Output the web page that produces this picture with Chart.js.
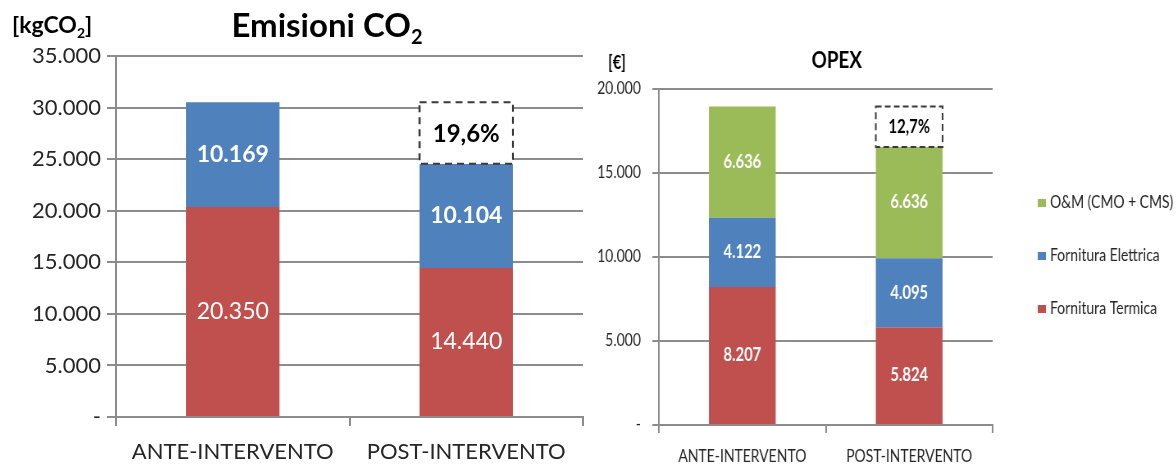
<!DOCTYPE html>
<html>
<head>
<meta charset="utf-8">
<script src="https://cdn.jsdelivr.net/npm/chart.js@4/dist/chart.umd.min.js"></script>
<style>
  html, body { margin: 0; padding: 0; background: #fff; }
  body { width: 1176px; height: 464px; position: relative; overflow: hidden; }
  #co2Wrap { position: absolute; left: 0; top: 0; width: 590px; height: 464px; }
  /* the OPEX panel uses a horizontally condensed rendering */
  #opexWrap { position: absolute; left: 590px; top: 0; width: 715px; height: 464px;
              transform: scaleX(0.82); transform-origin: 0 0; }
</style>
</head>
<body>
<div id="co2Wrap"><canvas id="co2"></canvas></div>
<div id="opexWrap"><canvas id="opex"></canvas></div>
<script>
// ---- data ----
const categories = ['ANTE-INTERVENTO', 'POST-INTERVENTO'];

const co2Termica   = [20350, 14440];
const co2Elettrica = [10169, 10104];
const co2TickLabels = ['-', '5.000', '10.000', '15.000', '20.000', '25.000', '30.000', '35.000'];

const opexTermica   = [8207, 5824];
const opexElettrica = [4122, 4095];
const opexOM        = [6636, 6636];
const opexTickLabels = ['-', '5.000', '10.000', '15.000', '20.000'];

const seriesNames = ['Fornitura Termica', 'Fornitura Elettrica', 'O&M (CMO + CMS)'];

// ---- styling ----
const RED = '#C0504D', BLUE = '#4F81BD', GREEN = '#9BBB59';
const GRID = '#8c8c8c';
const TEXT = '#262626';
const FONT = 'Lato, "Open Sans", sans-serif';

// Italian thousands separator
function fmtThousands(n) {
  return String(Math.round(n)).replace(/\B(?=(\d{3})+(?!\d))/g, '.');
}

// text with a subscript run, e.g. CO + 2
function drawRuns(ctx, runs, x, y, size, weight, family, align) {
  const widths = runs.map(r => {
    ctx.font = `${weight} ${r.sub ? Math.round(size * 0.62) : size}px ${family}`;
    return ctx.measureText(r.t).width;
  });
  const total = widths.reduce((a, b) => a + b, 0);
  let cx = align === 'center' ? x - total / 2 : x;
  ctx.textAlign = 'left';
  ctx.textBaseline = 'alphabetic';
  runs.forEach((r, i) => {
    ctx.font = `${weight} ${r.sub ? Math.round(size * 0.62) : size}px ${family}`;
    ctx.fillText(r.t, cx, r.sub ? y + size * 0.22 : y);
    cx += widths[i];
  });
}

// value labels centred inside each stacked segment
const segmentLabels = {
  id: 'segmentLabels',
  afterDatasetsDraw(chart, args, opts) {
    const ctx = chart.ctx;
    chart.data.datasets.forEach((ds, di) => {
      const meta = chart.getDatasetMeta(di);
      meta.data.forEach((bar, i) => {
        const p = bar.getProps(['x', 'y', 'base'], true);
        ctx.save();
        ctx.fillStyle = '#ffffff';
        ctx.font = `${ds.labelWeight || 'normal'} ${opts.size}px ${opts.family}`;
        ctx.textAlign = 'center';
        ctx.textBaseline = 'middle';
        ctx.fillText(fmtThousands(ds.data[i]), p.x, (p.y + p.base) / 2);
        ctx.restore();
      });
    });
  }
};

// dashed box spanning the reduction between the two totals
const reductionBox = {
  id: 'reductionBox',
  afterDatasetsDraw(chart, args, opts) {
    const ctx = chart.ctx;
    const ys = chart.scales.y;
    const dsets = chart.data.datasets;
    const totals = chart.data.labels.map((_, i) => dsets.reduce((s, d) => s + d.data[i], 0));
    const bar = chart.getDatasetMeta(dsets.length - 1).data[1];
    const w = bar.width;
    const left = bar.x - w / 2;
    const top = ys.getPixelForValue(totals[0]);
    const bottom = ys.getPixelForValue(totals[1]);
    const pct = ((totals[0] - totals[1]) / totals[0] * 100).toFixed(1).replace('.', ',') + '%';
    ctx.save();
    ctx.fillStyle = '#ffffff';
    ctx.fillRect(left, top, w, bottom - top);
    ctx.setLineDash(opts.dash);
    ctx.lineWidth = 2;
    ctx.strokeStyle = '#3a3a3a';
    ctx.strokeRect(left, top, w, bottom - top);
    ctx.setLineDash([]);
    ctx.fillStyle = '#000';
    ctx.font = `bold ${opts.size}px ${opts.family}`;
    ctx.textAlign = 'center';
    ctx.textBaseline = 'middle';
    ctx.fillText(pct, bar.x, (top + bottom) / 2 + 1);
    ctx.restore();
  }
};

// chart titles and unit captions
const headings = {
  id: 'headings',
  afterDraw(chart, args, opts) {
    const ctx = chart.ctx;
    ctx.save();
    ctx.fillStyle = '#000';
    opts.items.forEach(it => drawRuns(ctx, it.runs, it.x, it.y, it.size, 'bold', opts.family, it.align));
    ctx.restore();
  }
};

// legend stacked on the right, top series first
const sideLegend = {
  id: 'sideLegend',
  afterDraw(chart, args, opts) {
    if (!opts.show) return;
    const ctx = chart.ctx;
    const ds = chart.data.datasets;
    ctx.save();
    ctx.font = `${opts.size}px ${FONT}`;
    ctx.textAlign = 'left';
    ctx.textBaseline = 'middle';
    for (let k = ds.length - 1, row = 0; k >= 0; k--, row++) {
      const y = opts.top + row * opts.gap;
      ctx.fillStyle = ds[k].backgroundColor;
      ctx.fillRect(opts.x, y - 4, opts.box, 8);
      ctx.fillStyle = TEXT;
      ctx.fillText(ds[k].label, opts.x + opts.box + 5, y);
    }
    ctx.restore();
  }
};

Chart.register(segmentLabels, reductionBox, headings, sideLegend);

function baseOptions(cfg) {
  return {
    responsive: true,
    maintainAspectRatio: false,
    animation: false,
    devicePixelRatio: 1,
    layout: { padding: { top: cfg.top, right: cfg.right, left: 0, bottom: 0 } },
    plugins: {
      legend: { display: false },
      tooltip: { enabled: false },
      segmentLabels: { size: cfg.labelSize, family: FONT },
      reductionBox: { size: cfg.pctSize, family: FONT, dash: cfg.dash },
      headings: { family: FONT, items: cfg.headings },
      sideLegend: cfg.legend
    },
    scales: {
      x: {
        stacked: true,
        afterFit(s) { s.height = cfg.xHeight; },
        grid: { drawOnChartArea: false, drawTicks: true, tickLength: cfg.tickLen, color: GRID, lineWidth: 2 },
        border: { display: true, color: GRID, width: 2 },
        ticks: { color: TEXT, font: { family: FONT, size: cfg.tickSize }, padding: cfg.xPad, maxRotation: 0 }
      },
      y: {
        stacked: true,
        min: 0,
        max: cfg.max,
        afterFit(s) { s.width = cfg.yWidth; },
        grid: { color: GRID, lineWidth: 2, tickLength: cfg.tickLen, drawTicks: true },
        border: { display: true, color: GRID, width: 2 },
        ticks: {
          stepSize: 5000,
          color: TEXT,
          font: { family: FONT, size: cfg.tickSize },
          padding: cfg.yPad,
          callback: v => cfg.tickLabels[Math.round(v / 5000)]
        }
      }
    }
  };
}

// ---- CO2 emissions ----
new Chart(document.getElementById('co2'), {
  type: 'bar',
  data: {
    labels: categories,
    datasets: [
      { label: seriesNames[0], data: co2Termica, backgroundColor: RED, barPercentage: 0.8, categoryPercentage: 0.5, labelWeight: 'normal' },
      { label: seriesNames[1], data: co2Elettrica, backgroundColor: BLUE, barPercentage: 0.8, categoryPercentage: 0.5, labelWeight: 'bold' }
    ]
  },
  options: baseOptions({
    top: 56, right: 7, xHeight: 47, yWidth: 116, tickLen: 9, tickSize: 22, xPad: 13, yPad: 6,
    max: 35000, tickLabels: co2TickLabels, labelSize: 23, pctSize: 24, dash: [7, 5],
    headings: [
      { runs: [{ t: 'Emisioni CO' }, { t: '2', sub: true }], x: 327, y: 37, size: 33, align: 'center' },
      { runs: [{ t: '[kgCO' }, { t: '2', sub: true }, { t: ']' }], x: 12, y: 33, size: 23, align: 'left' }
    ],
    legend: { show: false }
  })
});

// ---- OPEX (drawn in a canvas condensed horizontally by 0.82) ----
new Chart(document.getElementById('opex'), {
  type: 'bar',
  data: {
    labels: categories,
    datasets: [
      { label: seriesNames[0], data: opexTermica, backgroundColor: RED, barPercentage: 0.8, categoryPercentage: 0.5, labelWeight: 'bold' },
      { label: seriesNames[1], data: opexElettrica, backgroundColor: BLUE, barPercentage: 0.8, categoryPercentage: 0.5, labelWeight: 'bold' },
      { label: seriesNames[2], data: opexOM, backgroundColor: GREEN, barPercentage: 0.8, categoryPercentage: 0.5, labelWeight: 'bold' }
    ]
  },
  options: baseOptions({
    top: 89, right: 224, xHeight: 39, yWidth: 84, tickLen: 8, tickSize: 17, xPad: 13, yPad: 14,
    max: 20000, tickLabels: opexTickLabels, labelSize: 18, pctSize: 18, dash: [7, 4],
    headings: [
      { runs: [{ t: 'OPEX' }], x: 301, y: 68, size: 23, align: 'center' },
      { runs: [{ t: '[€]' }], x: 22, y: 69, size: 18, align: 'left' }
    ],
    legend: { show: true, x: 546, top: 203, gap: 53, box: 10, size: 17 }
  })
});
</script>
</body>
</html>
